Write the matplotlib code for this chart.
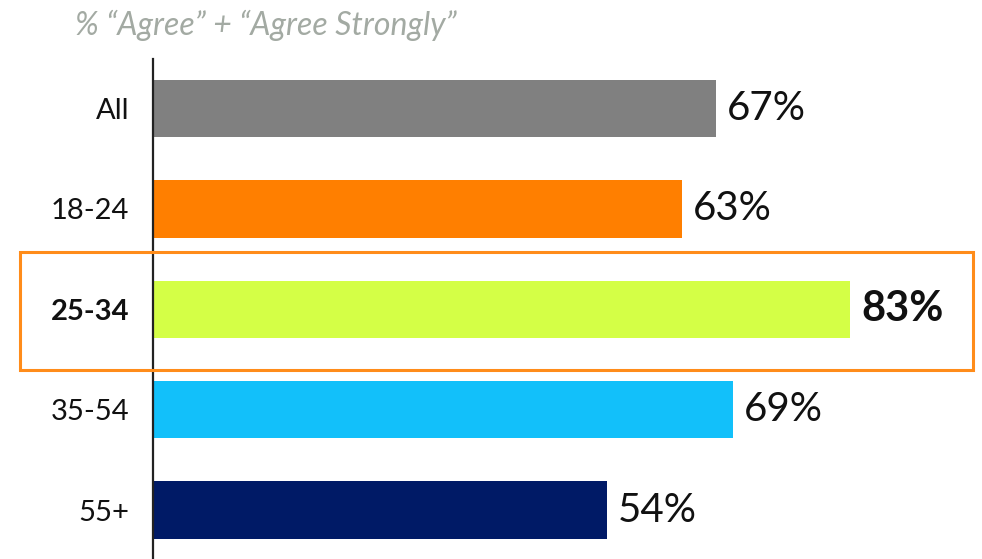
import matplotlib
matplotlib.use("Agg")
import matplotlib.pyplot as plt
from matplotlib.patches import Rectangle

categories = ["All", "18-24", "25-34", "35-54", "55+"]
values = [67, 63, 83, 69, 54]
colors = ["#808080", "#ff7f00", "#d4ff46", "#12c0fa", "#001a66"]
highlight = "25-34"
subtitle = "% \u201cAgree\u201d + \u201cAgree Strongly\u201d"

W, H = 982, 559
fig = plt.figure(figsize=(W / 100, H / 100), dpi=100)
plt.rcParams["font.family"] = ["Lato", "DejaVu Sans"]

# axes placed in pixel space: left spine at x=153, top at y=59
ax = fig.add_axes([153 / W, 0, 1 - 153 / W, (H - 59) / H])
ypos = list(range(len(categories)))
ax.barh(ypos, values, height=0.57, color=colors)
ax.set_xlim(0, 829 / 8.4)
ax.set_ylim(4.487, -0.493)

for i, (v, c) in enumerate(zip(values, categories)):
    bold = c == highlight
    ax.text(v + 1.3, i, f"{v}%", va="center", ha="left",
            fontsize=30 if bold else 29, fontweight="bold" if bold else "normal",
            color="#111111")

ax.set_yticks(ypos)
ax.set_yticklabels(categories, fontsize=21, color="#111111")
for lbl in ax.get_yticklabels():
    if lbl.get_text() == highlight:
        lbl.set_fontweight("bold")
ax.tick_params(axis="y", length=0, pad=17)
ax.set_xticks([])
for s in ["top", "right", "bottom"]:
    ax.spines[s].set_visible(False)
ax.spines["left"].set_linewidth(1.6)
ax.spines["left"].set_color("#222222")

# highlight frame around the focus row
x0, x1, y0, y1 = 20, 973, 252, 370
fig.patches.append(Rectangle((x0 / W, 1 - y1 / H), (x1 - x0) / W, (y1 - y0) / H,
                             transform=fig.transFigure, fill=False,
                             edgecolor="#ff8c1a", linewidth=2.2, zorder=5))

fig.text(75 / W, 1 - 25 / H, subtitle, fontsize=23, style="italic",
         color="#a3aaa3", va="center", ha="left")

fig.savefig("out.png", dpi=100)
